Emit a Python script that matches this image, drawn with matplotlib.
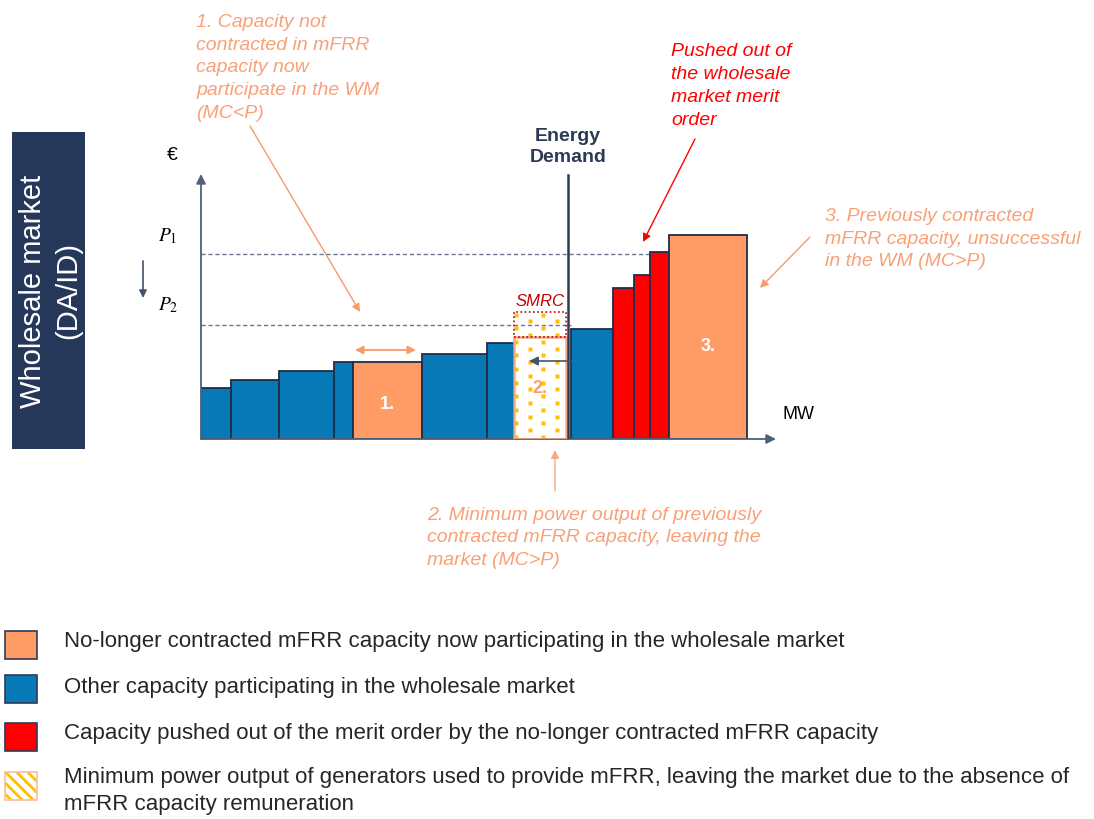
import numpy as np
import matplotlib
matplotlib.use("Agg")
import matplotlib.pyplot as plt
from matplotlib.patches import Rectangle

plt.rcParams['font.family'] = ['Liberation Sans', 'DejaVu Sans']
plt.rcParams['hatch.linewidth'] = 2.0

# ---------------- data ----------------
widths  = [30, 48, 55, 19, 69, 65, 27, 52, 5, 42, 21, 16, 19, 78]          # MW (arbitrary units)
heights = [51, 59, 68, 77, 77, 85, 96, 102, 0, 110, 151, 164, 187, 204]     # EUR (arbitrary units)
kinds   = ['other', 'other', 'other', 'other', 'freed', 'other', 'other',
           'smrc', 'gap', 'other', 'pushed', 'pushed', 'pushed', 'unsuccessful']
smrc_extra = 25          # dotted SMRC band on top of block 2
P1 = 185
P2 = 114
demand = 367

bar_labels = {'freed': '1.', 'smrc': '2.', 'unsuccessful': '3.'}

legend_labels = [
    "No-longer contracted mFRR capacity now participating in the wholesale market",
    "Other capacity participating in the wholesale market",
    "Capacity pushed out of the merit order by the no-longer contracted mFRR capacity",
    "Minimum power output of generators used to provide mFRR, leaving the market due to the absence of\nmFRR capacity remuneration",
]

# ---------------- style ----------------
BLUE = '#0779B7'
ORANGE = '#FF9C66'
RED = '#FF0000'
NAVY = '#1F2D4A'
AXC = '#50607A'
TXT_OR = '#F9A077'
YEL = '#FFC000'
colors = {'other': BLUE, 'freed': ORANGE, 'pushed': RED, 'unsuccessful': ORANGE}

W, H = 1094, 820
fig = plt.figure(figsize=(W / 100, H / 100), dpi=100)

# overlay axes in pixel coordinates for free text
ov = fig.add_axes([0, 0, 1, 1])
ov.set_xlim(0, W)
ov.set_ylim(H, 0)
ov.axis('off')

# chart axes
x0_px, base_px = 201, 440
ax = fig.add_axes([x0_px / W, (H - base_px) / H, 600 / W, 280 / H])
ax.set_xlim(0, 600)
ax.set_ylim(0, 280)
ax.axis('off')

lefts = np.concatenate([[0], np.cumsum(widths)[:-1]])

# axes arrows
ax.annotate('', xy=(0, 265), xytext=(0, 0),
            arrowprops=dict(arrowstyle='-|>', color=AXC, lw=1.3, mutation_scale=14, shrinkA=0, shrinkB=0))
ax.annotate('', xy=(575, 0), xytext=(0, 0),
            arrowprops=dict(arrowstyle='-|>', color=AXC, lw=1.3, mutation_scale=14, shrinkA=0, shrinkB=0))

# price lines
i_p1_end = kinds.index('pushed') + 2
i_p2_end = kinds.index('gap') + 1
ax.plot([0, lefts[i_p1_end]], [P1, P1], ls=(0, (3, 2)), color='#6A7890', lw=1.0, zorder=1)
ax.plot([0, lefts[i_p2_end]], [P2, P2], ls=(0, (3, 2)), color='#6A7890', lw=1.0, zorder=1)

# bars
for l, w, h, k in zip(lefts, widths, heights, kinds):
    if k == 'gap':
        continue
    if k == 'smrc':
        # dotted pattern
        xs, ys = [], []
        rows = np.arange(2, h + smrc_extra, 6.8)
        for j, yy in enumerate(rows):
            off = 2 if j % 2 == 0 else 15.5
            for xx in np.arange(l + off, l + w - 1, 27):
                xs.append(xx)
                ys.append(yy)
        ax.plot(xs, ys, 's', color=YEL, ms=2.3, mec='none', zorder=2)
        ax.add_patch(Rectangle((l, 0), w, h, facecolor='none', edgecolor='#F7A982', lw=1.8, zorder=3))
        ax.add_patch(Rectangle((l, h), w, smrc_extra, facecolor='none', edgecolor='#C00000',
                               lw=1.2, ls=(0, (1, 1.5)), zorder=3))
        ax.text(l + w / 2, h + smrc_extra + 11, 'SMRC', color='#C00000', fontsize=12,
                style='italic', ha='center', va='center')
        ax.text(l + w / 2, h * 0.5, bar_labels[k], color=ORANGE, fontsize=13,
                fontweight='bold', ha='center', va='center', zorder=4)
        continue
    ax.bar(l, h, width=w, align='edge', color=colors[k], edgecolor=NAVY, lw=1.3, zorder=2)
    if k in bar_labels:
        ax.text(l + w / 2, h * 0.46, bar_labels[k], color='white', fontsize=13,
                fontweight='bold', ha='center', va='center', zorder=4)

# energy demand line
ax.plot([demand, demand], [0, 264], color='#2B3A55', lw=1.8, zorder=5)

# arrow inside SMRC (pointing left)
i_sm = kinds.index('smrc')
ax.annotate('', xy=(lefts[i_sm] + 15, 78), xytext=(lefts[i_sm + 2], 78),
            arrowprops=dict(arrowstyle='-|>', color='#44546A', lw=1.2, mutation_scale=13,
                            shrinkA=0, shrinkB=0), zorder=6)

# double arrow over freed block
i_fr = kinds.index('freed')
ax.annotate('', xy=(lefts[i_fr] + 2, 89), xytext=(lefts[i_fr] + widths[i_fr] - 6, 89),
            arrowprops=dict(arrowstyle='<|-|>', color='#F79A6C', lw=1.3, mutation_scale=12,
                            shrinkA=0, shrinkB=0))

# ---------------- free text (pixel coords) ----------------
# left title box
ov.add_patch(Rectangle((12, 133), 73, 317, facecolor='#263859', edgecolor='none'))
ov.text(51, 291, 'Wholesale market\n(DA/ID)', rotation=90, color='white', fontsize=21,
        ha='center', va='center', multialignment='center', linespacing=1.32)

ov.text(172, 155, '€', fontsize=14, ha='center', va='center', color='black')
ov.text(168, 236, r'$P_1$', fontsize=14, ha='center', va='center', math_fontfamily='stix')
ov.text(168, 305, r'$P_2$', fontsize=14, ha='center', va='center', math_fontfamily='stix')
ov.annotate('', xy=(143, 299), xytext=(143, 262),
            arrowprops=dict(arrowstyle='-|>', color='#44546A', lw=1.2, mutation_scale=11,
                            shrinkA=0, shrinkB=0))

ov.text(799, 415, 'MW', fontsize=13, ha='center', va='center', color='black')
ov.text(568, 147, 'Energy\nDemand', fontsize=14, fontweight='bold', color='#2B3A55',
        ha='center', va='center', linespacing=1.3)

LS = 1.45
ov.text(196, 68, '1. Capacity not\ncontracted in mFRR\ncapacity now\nparticipate in the WM\n(MC<P)',
        fontsize=14, style='italic', color=TXT_OR, ha='left', va='center', linespacing=LS)
ov.annotate('', xy=(360, 313), xytext=(250, 127),
            arrowprops=dict(arrowstyle='-|>', color='#F79A6C', lw=1.0, mutation_scale=12,
                            shrinkA=0, shrinkB=0))

ov.text(671, 86, 'Pushed out of\nthe wholesale\nmarket merit\norder',
        fontsize=14, style='italic', color='#FF0000', ha='left', va='center', linespacing=LS)
ov.annotate('', xy=(643, 243), xytext=(695, 140),
            arrowprops=dict(arrowstyle='-|>', color='#FF0000', lw=1.0, mutation_scale=12,
                            shrinkA=0, shrinkB=0))

ov.text(825, 239, '3. Previously contracted\nmFRR capacity, unsuccessful\nin the WM (MC>P)',
        fontsize=14, style='italic', color=TXT_OR, ha='left', va='center', linespacing=LS)
ov.annotate('', xy=(760, 289), xytext=(810, 238),
            arrowprops=dict(arrowstyle='-|>', color='#F79A6C', lw=1.0, mutation_scale=12,
                            shrinkA=0, shrinkB=0))

ov.text(427, 538, '2. Minimum power output of previously\ncontracted mFRR capacity, leaving the\nmarket (MC>P)',
        fontsize=14, style='italic', color=TXT_OR, ha='left', va='center', linespacing=LS)
ov.annotate('', xy=(555, 451), xytext=(555, 492),
            arrowprops=dict(arrowstyle='-|>', color='#F7A982', lw=1.0, mutation_scale=12,
                            shrinkA=0, shrinkB=0))

# ---------------- legend ----------------
leg_fc = [ORANGE, BLUE, RED]
leg_y = [646, 690, 738, 787]
text_y = [642, 688, 734, 791]
for i, lab in enumerate(legend_labels):
    y = leg_y[i]
    if i < 3:
        ov.add_patch(Rectangle((5, y - 14), 32, 28, facecolor=leg_fc[i], edgecolor='#2E3B55', lw=1.2))
    else:
        ov.add_patch(Rectangle((5, y - 14), 32, 28, facecolor='white', edgecolor=YEL, lw=0,
                               hatch='\\\\\\'))
        ov.add_patch(Rectangle((5, y - 14), 32, 28, facecolor='none', edgecolor='#F8C3A6', lw=1.3))
    ov.text(64, text_y[i], lab, fontsize=16, color='#262626', ha='left', va='center', linespacing=1.35)

fig.savefig('out.png', dpi=100)
